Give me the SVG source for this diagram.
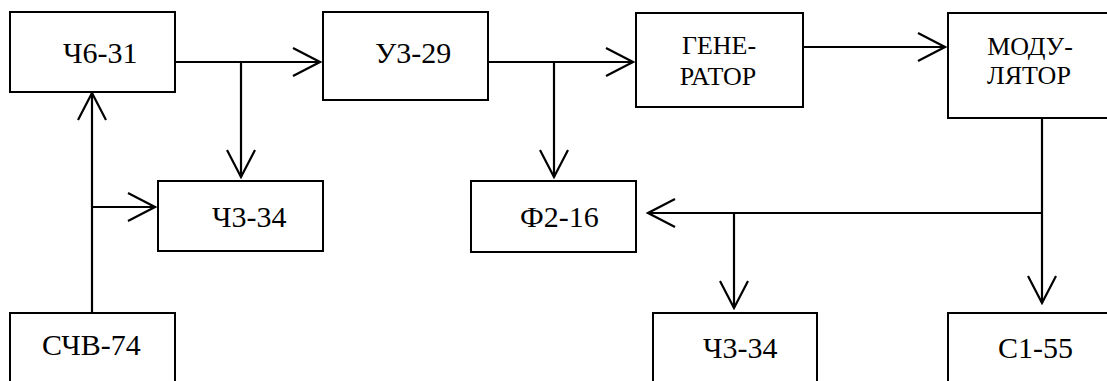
<svg xmlns="http://www.w3.org/2000/svg" width="1107" height="381" viewBox="0 0 1107 381">
<style>
.box{fill:#fff;stroke:#000;stroke-width:2}
.ln{fill:none;stroke:#000;stroke-width:2.2}
.t{font-family:"Liberation Serif",serif;font-size:30px;fill:#000}
.t2{font-family:"Liberation Serif",serif;font-size:26px;fill:#000;text-anchor:middle}
</style>
<defs>
<marker id="arr" markerUnits="userSpaceOnUse" viewBox="-30 -16 32 32" markerWidth="32" markerHeight="32" refX="0" refY="0" orient="auto">
<path d="M-27,-14 L0,0 L-27,14" fill="none" stroke="#000" stroke-width="2.2"/>
</marker>
</defs>
<rect width="1107" height="381" fill="#fff"/>
<g id="n-ch6-31"><rect class="box" x="10" y="12" width="165" height="80"/><text class="t" x="63" y="63">Ч6-31</text></g>
<g id="n-u3-29"><rect class="box" x="323" y="12" width="165" height="88"/><text class="t" x="375" y="63">У3-29</text></g>
<g id="n-gen"><rect class="box" x="636" y="13" width="167" height="94"/><text class="t2" x="719" y="54">ГЕНЕ-</text><text class="t2" x="718" y="85">РАТОР</text></g>
<g id="n-mod"><rect class="box" x="948" y="13" width="170" height="105"/><text class="t2" x="1030" y="55">МОДУ-</text><text class="t2" x="1029" y="84">ЛЯТОР</text></g>
<g id="n-ch3-34a"><rect class="box" x="158" y="181" width="165" height="70"/><text class="t" x="212" y="227">Ч3-34</text></g>
<g id="n-f2-16"><rect class="box" x="471" y="181" width="165" height="71"/><text class="t" x="520" y="227">Ф2-16</text></g>
<g id="n-schv-74"><rect class="box" x="10" y="313" width="165" height="80"/><text class="t" x="42" y="355">СЧВ-74</text></g>
<g id="n-ch3-34b"><rect class="box" x="653" y="313" width="164" height="80"/><text class="t" x="703" y="358">Ч3-34</text></g>
<g id="n-c1-55"><rect class="box" x="948" y="313" width="170" height="80"/><text class="t" x="998" y="358">С1-55</text></g>
<g id="connectors">
<line class="ln" x1="175" y1="62" x2="320" y2="62" marker-end="url(#arr)"/>
<line class="ln" x1="241" y1="62" x2="241" y2="177" marker-end="url(#arr)"/>
<line class="ln" x1="92" y1="313" x2="92" y2="93" marker-end="url(#arr)"/>
<line class="ln" x1="92" y1="207" x2="155" y2="207" marker-end="url(#arr)"/>
<line class="ln" x1="488" y1="62" x2="633" y2="62" marker-end="url(#arr)"/>
<line class="ln" x1="554" y1="62" x2="554" y2="177" marker-end="url(#arr)"/>
<line class="ln" x1="803" y1="47" x2="945" y2="47" marker-end="url(#arr)"/>
<line class="ln" x1="1042" y1="118" x2="1042" y2="303" marker-end="url(#arr)"/>
<line class="ln" x1="1042" y1="213" x2="648" y2="213" marker-end="url(#arr)"/>
<line class="ln" x1="734" y1="213" x2="734" y2="308" marker-end="url(#arr)"/>
</g>
</svg>
